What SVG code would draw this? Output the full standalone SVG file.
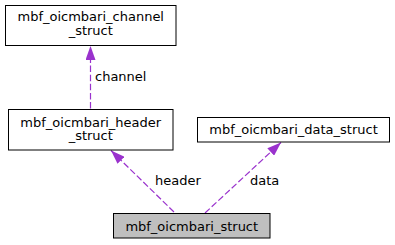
<svg xmlns="http://www.w3.org/2000/svg" width="395" height="245" viewBox="0 0 395 245">
  <style>
    .box { fill: #ffffff; stroke: #000000; stroke-width: 1; }
    .cur { fill: #bfbfbf; stroke: #000000; stroke-width: 1; }
    .lbl { font-family: "DejaVu Sans", "Liberation Sans", sans-serif; font-size: 13px; fill: #000000; }
    .edge { fill: none; stroke: #9a32cd; stroke-width: 1.2; stroke-dasharray: 6.5,2.6; }
  </style>
  <defs>
    <marker id="arrow" viewBox="0 0 14 10" refX="14" refY="5" markerWidth="14" markerHeight="10" markerUnits="userSpaceOnUse" orient="auto">
      <path d="M0,0 L14,5 L0,10 Z" fill="#9a32cd"/>
    </marker>
  </defs>

  <g id="edges">
    <path class="edge" d="M90.5,108.5 L90.5,46" marker-end="url(#arrow)"/>
    <text class="lbl" x="95" y="81">channel</text>
    <path class="edge" d="M174,212 L111,150.5" marker-end="url(#arrow)"/>
    <text class="lbl" x="155" y="185">header</text>
    <path class="edge" d="M205,213 L281,142.5" marker-end="url(#arrow)"/>
    <text class="lbl" x="250" y="185">data</text>
  </g>

  <g id="node-channel">
    <rect class="box" x="5.5" y="5.5" width="170.5" height="40"/>
    <text class="lbl" x="90.75" y="21" text-anchor="middle">mbf_oicmbari_channel</text>
    <text class="lbl" x="90.75" y="35" text-anchor="middle">_struct</text>
  </g>

  <g id="node-header">
    <rect class="box" x="8.5" y="109.5" width="164.5" height="40.5"/>
    <text class="lbl" x="90.75" y="126.5" text-anchor="middle">mbf_oicmbari_header</text>
    <text class="lbl" x="90.75" y="140" text-anchor="middle">_struct</text>
  </g>

  <g id="node-data">
    <rect class="box" x="197.5" y="117.5" width="192" height="24.5"/>
    <text class="lbl" x="293.5" y="134" text-anchor="middle">mbf_oicmbari_data_struct</text>
  </g>

  <g id="node-main">
    <rect class="cur" x="113.5" y="213.5" width="156.5" height="24.5"/>
    <text class="lbl" x="191.75" y="231" text-anchor="middle">mbf_oicmbari_struct</text>
  </g>
</svg>
